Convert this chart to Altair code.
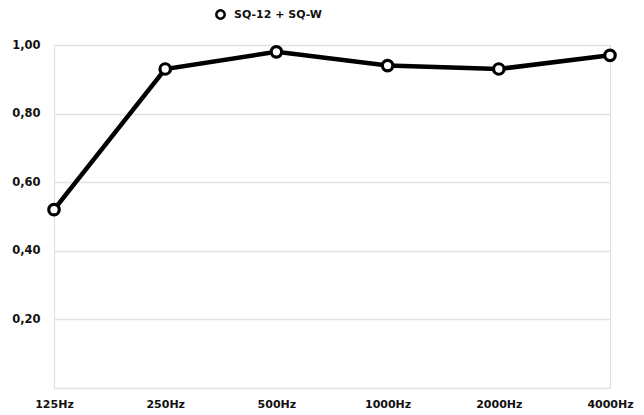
import altair as alt
import pandas as pd

categories = ["125Hz", "250Hz", "500Hz", "1000Hz", "2000Hz", "4000Hz"]
values = [0.52, 0.93, 0.98, 0.94, 0.93, 0.97]
series_name = "SQ-12 + SQ-W"
y_ticks = [0, 0.2, 0.4, 0.6, 0.8, 1.0]

df = pd.DataFrame({"freq": categories, "value": values, "series": series_name})

FONT = "DejaVu Sans"

x = alt.X("freq:N", sort=categories, scale=alt.Scale(type="point", padding=0),
          axis=alt.Axis(title=None, labelAngle=0, ticks=False, domain=False, grid=False,
                        labelFont=FONT, labelFontWeight="bold", labelFontSize=11,
                        labelColor="#111111", labelPadding=10, labelBound=False))
y = alt.Y("value:Q", scale=alt.Scale(domain=[0, 1]),
          axis=alt.Axis(title=None, values=y_ticks, ticks=False, domain=False,
                        gridColor="#e4e2dc", gridWidth=1.5,
                        labelExpr="datum.value == 0 ? '' : replace(format(datum.value, '.2f'), '.', ',')",
                        labelFont=FONT, labelFontWeight="bold", labelFontSize=11.5,
                        labelColor="#111111", labelPadding=14))

stroke = alt.Stroke("series:N", scale=alt.Scale(range=["#000000"]),
                    legend=alt.Legend(title=None, orient="none", legendX=161, legendY=-36,
                                      symbolType="circle", symbolSize=70, symbolStrokeWidth=2.5,
                                      symbolFillColor="white",
                                      labelFont=FONT, labelFontWeight="bold", labelFontSize=11,
                                      labelColor="#111111", labelOffset=8))

line = alt.Chart(df).mark_line(strokeWidth=4.5, color="black").encode(x=x, y=y)
points = alt.Chart(df).mark_point(shape="circle", filled=False, fill="white",
                                  strokeWidth=3.2, size=110, opacity=1).encode(
    x=x, y=y, stroke=stroke)

chart = (line + points).properties(
    width=556, height=343,
    autosize=alt.AutoSizeParams(type="none"),
    padding={"left": 46, "top": 37, "right": 26, "bottom": 27},
).configure_view(stroke=None).configure(background="white")

chart.save("out.html", embed_options={"renderer": "svg", "actions": False})
